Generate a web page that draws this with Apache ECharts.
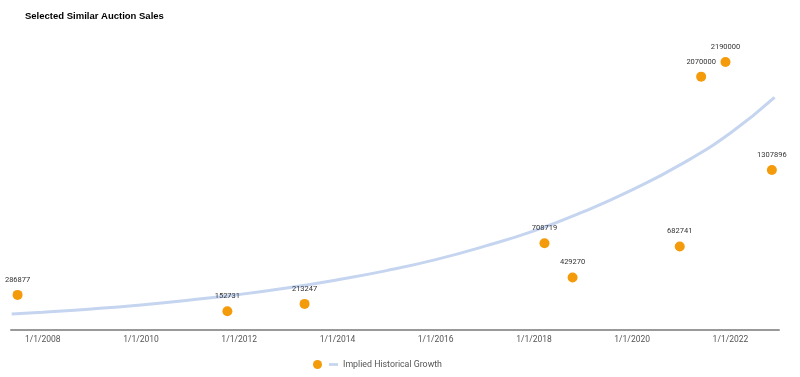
<!DOCTYPE html>
<html>
<head>
<meta charset="utf-8">
<script src="https://cdn.jsdelivr.net/npm/echarts@6/dist/echarts.min.js"></script>
<style>
  html, body { margin: 0; padding: 0; background: #fff; }
  #chart { width: 800px; height: 377px; }
</style>
</head>
<body>
<div id="chart"></div>
<script>
// auction sales (date, price)
const saleDates = ['2007-06-28', '2011-10-05', '2013-05-01', '2018-03-20', '2018-10-15', '2020-12-20', '2021-05-28', '2021-11-25', '2022-11-05'];
const salePrices = [286877, 152731, 213247, 708719, 429270, 682741, 2070000, 2190000, 1307896];

// implied growth curve
const trendDates = ['2007-05-15', '2008-01-01', '2009-01-01', '2010-01-01', '2011-01-01', '2012-01-01', '2013-01-01', '2014-01-01', '2015-01-01', '2016-01-01', '2017-01-01', '2018-01-01', '2019-01-01', '2020-01-01', '2021-01-01', '2022-01-01', '2022-11-25'];
const trendValues = [130000, 145000, 172000, 205000, 245000, 290000, 345000, 410000, 485000, 575000, 685000, 810000, 965000, 1145000, 1355000, 1610000, 1900000];

// x tick positions
const tickDates = ['2008-01-01', '2010-01-01', '2012-01-01', '2014-01-01', '2016-01-01', '2018-01-01', '2020-01-01', '2022-01-01'];

const chart = echarts.init(document.getElementById('chart'));
const t = d => new Date(d + 'T00:00:00').getTime();

chart.setOption({
  animation: false,
  textStyle: { fontFamily: 'Roboto, Arial, sans-serif' },
  title: {
    text: 'Selected Similar Auction Sales',
    left: 20, top: 6,
    textStyle: { fontFamily: 'Liberation Sans, Arial, sans-serif', fontSize: 9.5, fontWeight: 'bold', color: '#000' }
  },
  grid: { left: 11, right: 21, top: 24, bottom: 47 },
  legend: {
    left: 308, top: 355,
    itemWidth: 9, itemHeight: 9, itemGap: 7,
    textStyle: { fontSize: 8.8, color: '#555' },
    formatter: name => name === 'Sales' ? '' : name,
    data: [
      { name: 'Sales', icon: 'circle' },
      { name: 'Implied Historical Growth', icon: 'path://M0,0 L10,0 L10,3 L0,3 Z' }
    ]
  },
  xAxis: {
    type: 'value',
    min: t('2007-05-10'), max: t('2022-12-28'),
    axisLine: { lineStyle: { color: '#999', width: 2 } },
    axisTick: { show: false },
    splitLine: { show: false },
    axisLabel: {
      color: '#555', fontSize: 8.5, margin: 5,
      customValues: tickDates.map(t),
      formatter: v => { const d = new Date(v); return (d.getMonth() + 1) + '/' + d.getDate() + '/' + d.getFullYear(); }
    }
  },
  yAxis: {
    type: 'value', min: 0, max: 2500000,
    show: false, splitLine: { show: false }
  },
  series: [
    {
      name: 'Implied Historical Growth',
      type: 'line', smooth: true, symbol: 'none',
      data: trendDates.map((d, i) => [t(d), trendValues[i]]),
      lineStyle: { color: '#c5d5f0', width: 3 },
      itemStyle: { color: '#c5d5f0' },
      z: 1
    },
    {
      name: 'Sales',
      type: 'scatter', symbolSize: 10,
      data: saleDates.map((d, i) => [t(d), salePrices[i]]),
      itemStyle: { color: '#f49b0b', opacity: 1 },
      label: {
        show: true, position: 'top', distance: 6,
        fontSize: 7.5, color: '#333',
        formatter: p => p.value[1]
      },
      z: 3
    }
  ]
});
</script>
</body>
</html>
